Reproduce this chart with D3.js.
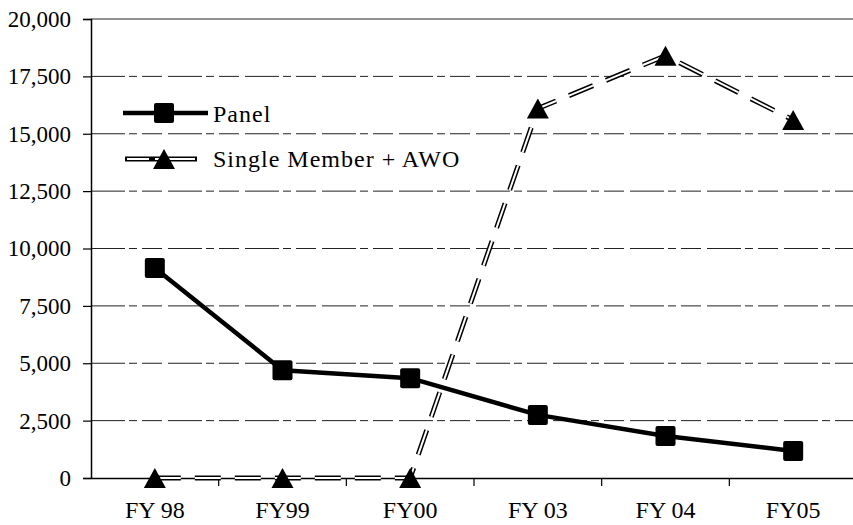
<!DOCTYPE html>
<html>
<head>
<meta charset="utf-8">
<script src="https://cdn.jsdelivr.net/npm/d3@7"></script>
<style>
  html, body { margin: 0; padding: 0; background: #fff; }
  svg { display: block; }
</style>
</head>
<body>
<svg id="chart" width="853" height="525"></svg>
<script>
const categories = ["FY 98", "FY99", "FY00", "FY 03", "FY 04", "FY05"];
const panelValues = [9150, 4700, 4350, 2750, 1830, 1180];
const singleValues = [0, 0, 0, 16100, 18400, 15600];
const yTicks = [0, 2500, 5000, 7500, 10000, 12500, 15000, 17500, 20000];
const seriesNames = ["Panel", "Single Member + AWO"];

const FONT = "Liberation Serif, DejaVu Serif, serif";
const svg = d3.select("#chart");
const plotLeft = 91, plotRight = 857, plotTop = 19, plotBottom = 478;

const x = d3.scaleBand().domain(categories).range([plotLeft, plotRight]).padding(0);
const y = d3.scaleLinear().domain([0, 20000]).range([plotBottom, plotTop]);
const cx = d => x(d) + x.bandwidth() / 2;

// gridlines
svg.append("g").selectAll("line")
  .data(yTicks.filter(t => t > 0))
  .join("line")
  .attr("x1", plotLeft).attr("x2", 853)
  .attr("y1", d => y(d)).attr("y2", d => y(d))
  .attr("stroke", "#222")
  .attr("stroke-width", 1)
  .attr("stroke-dasharray", d => d === 20000 ? null : "34,4,8,5,20,6");

// y axis
const yAxis = d3.axisLeft(y).tickValues(yTicks).tickSize(8).tickPadding(12)
  .tickFormat(d3.format(","));
const gy = svg.append("g").attr("transform", `translate(${plotLeft},0)`).call(yAxis);
gy.attr("font-family", null).attr("font-size", null);
gy.select(".domain").attr("stroke", "#000").attr("stroke-width", 1.5);
gy.selectAll(".tick line").attr("stroke", "#000").attr("stroke-width", 1.2);
gy.selectAll("text").style("font", "23px " + FONT).attr("fill", "#000");

// x axis
const xAxis = d3.axisBottom(x).tickSize(0).tickPadding(23);
const gx = svg.append("g").attr("transform", `translate(0,${plotBottom})`).call(xAxis);
gx.attr("font-family", null).attr("font-size", null);
gx.select(".domain").attr("stroke", "#000").attr("stroke-width", 1.5);
gx.selectAll("text").style("font", "24px " + FONT).attr("fill", "#000");
// boundary ticks between categories
svg.append("g").selectAll("line")
  .data(categories.slice(1))
  .join("line")
  .attr("x1", d => x(d)).attr("x2", d => x(d))
  .attr("y1", plotBottom).attr("y2", plotBottom + 8)
  .attr("stroke", "#000").attr("stroke-width", 1.2);

// Single Member + AWO line (hollow dashes)
const line = d3.line().x((d, i) => cx(categories[i])).y(d => y(d));
svg.append("path").datum(singleValues).attr("d", line)
  .attr("fill", "none").attr("stroke", "#000").attr("stroke-width", 5)
  .attr("stroke-dasharray", "26,14");
svg.append("path").datum(singleValues).attr("d", line)
  .attr("fill", "none").attr("stroke", "#fff").attr("stroke-width", 2)
  .attr("stroke-dasharray", "26,14");

// Panel line
svg.append("path").datum(panelValues).attr("d", line)
  .attr("fill", "none").attr("stroke", "#000").attr("stroke-width", 4.5)
  .attr("stroke-linejoin", "round");

// triangle centred on its bounding box
const triPath = "M0,-10 L11,10 L-11,10 Z";
svg.append("g").selectAll("path")
  .data(singleValues)
  .join("path")
  .attr("d", triPath)
  .attr("transform", (d, i) => `translate(${cx(categories[i])},${y(d)})`)
  .attr("fill", "#000");

svg.append("g").selectAll("rect")
  .data(panelValues)
  .join("rect")
  .attr("x", (d, i) => cx(categories[i]) - 10)
  .attr("y", d => y(d) - 10)
  .attr("width", 20).attr("height", 20).attr("rx", 2)
  .attr("fill", "#000");

// legend
const lg = svg.append("g");
lg.append("line").attr("x1", 123).attr("x2", 208).attr("y1", 113).attr("y2", 113)
  .attr("stroke", "#000").attr("stroke-width", 4.5);
lg.append("rect").attr("x", 154).attr("y", 103).attr("width", 20).attr("height", 20).attr("rx", 2).attr("fill", "#000");
lg.append("text").attr("x", 213).attr("y", 122).style("font", "24px " + FONT)
  .style("letter-spacing", "1px").text(seriesNames[0]);

lg.append("line").attr("x1", 125).attr("x2", 197).attr("y1", 159).attr("y2", 159)
  .attr("stroke", "#000").attr("stroke-width", 5);
lg.append("line").attr("x1", 127).attr("x2", 195).attr("y1", 159).attr("y2", 159)
  .attr("stroke", "#fff").attr("stroke-width", 2).attr("stroke-dasharray", "22,6,40");
lg.append("path").attr("d", triPath).attr("transform", "translate(164,159)").attr("fill", "#000");
lg.append("text").attr("x", 213).attr("y", 167).style("font", "24px " + FONT)
  .style("letter-spacing", "1px").text(seriesNames[1]);
</script>
</body>
</html>
